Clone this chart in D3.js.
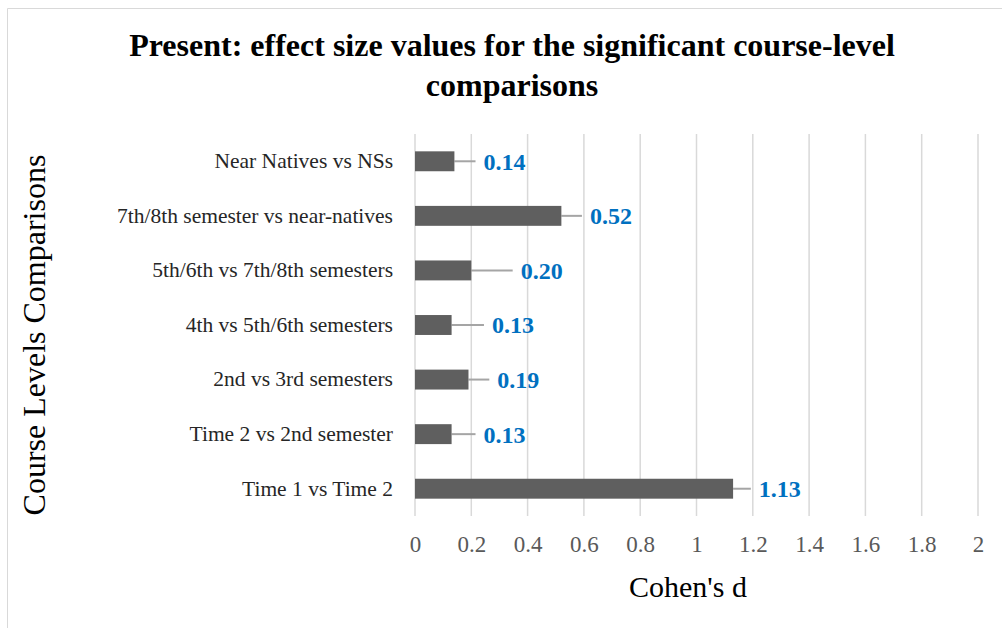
<!DOCTYPE html>
<html>
<head>
<meta charset="utf-8">
<script src="https://cdn.jsdelivr.net/npm/d3@7"></script>
<style>
  body { margin: 0; background: #fff; }
  svg { display: block; font-family: 'Liberation Serif', 'Times New Roman', serif; }
</style>
</head>
<body>
<div id="chart"></div>
<script>
const CATEGORIES = [
  'Near Natives vs NSs',
  '7th/8th semester vs near-natives',
  '5th/6th vs 7th/8th semesters',
  '4th vs 5th/6th semesters',
  '2nd vs 3rd semesters',
  'Time 2 vs 2nd semester',
  'Time 1 vs Time 2'
]
const EFFECT_SIZES = [0.14, 0.52, 0.20, 0.13, 0.19, 0.13, 1.13]
const ERROR_PLUS = [0.075, 0.073, 0.147, 0.115, 0.074, 0.085, 0.063]
const X_TICKS = [0, 0.2, 0.4, 0.6, 0.8, 1, 1.2, 1.4, 1.6, 1.8, 2]

const W = 1002
const H = 628
const margin = { top: 134, bottom: 112, left: 415, right: 24 }

const svg = d3.select('#chart').append('svg')
  .attr('width', W)
  .attr('height', H)

// chart area border (only top/left visible in crop)
svg.append('path')
  .attr('d', `M7.5,${H} V8.5 H${W}`)
  .attr('fill', 'none')
  .attr('stroke', '#d9d9d9')
  .attr('stroke-width', 1)

const data = CATEGORIES.map((c, i) => ({ cat: c, val: EFFECT_SIZES[i], err: ERROR_PLUS[i] }))

const x = d3.scaleLinear()
  .domain([0, 2])
  .range([margin.left, W - margin.right])

const y = d3.scaleBand()
  .domain(CATEGORIES)
  .range([margin.top, H - margin.bottom])
  .paddingInner(0.635)
  .paddingOuter(0.3175)

// gridlines
svg.append('g')
  .selectAll('line')
  .data(X_TICKS)
  .join('line')
  .attr('x1', d => x(d))
  .attr('x2', d => x(d))
  .attr('y1', margin.top)
  .attr('y2', H - margin.bottom)
  .attr('stroke', '#d9d9d9')
  .attr('stroke-width', 1.5)

// error bars
svg.append('g')
  .selectAll('line')
  .data(data)
  .join('line')
  .attr('x1', d => x(d.val))
  .attr('x2', d => x(d.val + d.err))
  .attr('y1', d => y(d.cat) + y.bandwidth() / 2)
  .attr('y2', d => y(d.cat) + y.bandwidth() / 2)
  .attr('stroke', '#a5a5a5')
  .attr('stroke-width', 2)

// bars
svg.append('g')
  .selectAll('rect')
  .data(data)
  .join('rect')
  .attr('x', x(0))
  .attr('y', d => y(d.cat))
  .attr('width', d => x(d.val) - x(0))
  .attr('height', y.bandwidth())
  .attr('fill', '#5f5f5f')

// value labels
svg.append('g')
  .selectAll('text')
  .data(data)
  .join('text')
  .attr('x', d => x(d.val + d.err) + 8)
  .attr('y', d => y(d.cat) + y.bandwidth() / 2)
  .attr('dy', '0.35em')
  .attr('fill', '#0070c0')
  .attr('font-weight', 'bold')
  .attr('font-size', '24px')
  .text(d => d.val.toFixed(2))

// y axis (category labels)
const yAxis = svg.append('g')
  .attr('transform', `translate(${margin.left - 22},0)`)
  .call(d3.axisLeft(y).tickSize(0).tickPadding(0))
yAxis.select('.domain').remove()
yAxis.selectAll('text')
  .attr('font-family', "'Liberation Serif', 'Times New Roman', serif")
  .attr('font-size', '21.5px')
  .attr('fill', '#262626')

// x axis
const xAxis = svg.append('g')
  .attr('transform', `translate(0,${H - margin.bottom})`)
  .call(d3.axisBottom(x).tickValues(X_TICKS).tickSize(0).tickFormat(d3.format('~g')))
xAxis.select('.domain').remove()
xAxis.selectAll('text')
  .attr('font-family', "'Liberation Serif', 'Times New Roman', serif")
  .attr('font-size', '23px')
  .attr('fill', '#595959')
  .attr('y', 36)
  .attr('dy', 0)

// axis titles
svg.append('text')
  .attr('x', 688)
  .attr('y', 597)
  .attr('text-anchor', 'middle')
  .attr('font-size', '30px')
  .attr('fill', '#000')
  .text("Cohen's d")

svg.append('text')
  .attr('transform', 'translate(45, 335) rotate(-90)')
  .attr('text-anchor', 'middle')
  .attr('font-size', '32px')
  .attr('fill', '#000')
  .text('Course Levels Comparisons')

// title
const title = svg.append('text')
  .attr('text-anchor', 'middle')
  .attr('font-weight', 'bold')
  .attr('font-size', '32px')
  .attr('fill', '#000')
title.append('tspan').attr('x', 512).attr('y', 56).text('Present: effect size values for the significant course-level')
title.append('tspan').attr('x', 512).attr('y', 96).text('comparisons')
</script>
</body>
</html>
